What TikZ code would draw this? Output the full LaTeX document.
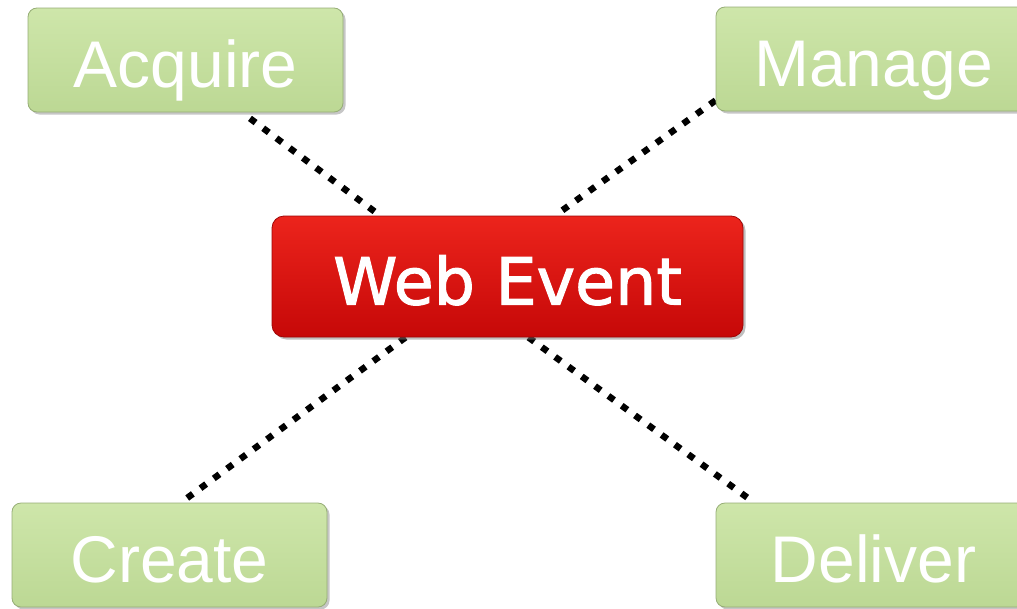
\documentclass[tikz,border=0pt]{standalone}
\usepackage{fontspec}
\setmainfont{Liberation Sans}
\newfontface\webfont[FakeBold=1.6]{DejaVu Sans}
\usetikzlibrary{shadows,backgrounds}
\definecolor{gtop}{RGB}{206,230,170}
\definecolor{gbot}{RGB}{188,216,148}
\definecolor{rtop}{RGB}{236,36,28}
\definecolor{rbot}{RGB}{198,8,8}
\tikzset{
  greenbox/.style={rectangle, rounded corners=9pt, top color=gtop, bottom color=gbot,
    draw=gbot!80!black, line width=0.8pt,
    drop shadow={shadow xshift=2.5pt, shadow yshift=-2.5pt, opacity=0.45},
    minimum width=315pt, minimum height=104pt, inner sep=0pt,
    text=white, font=\fontsize{66}{66}\selectfont, text height=55pt, text depth=0pt},
  redbox/.style={rectangle, rounded corners=12pt, top color=rtop, bottom color=rbot,
    draw=rbot!80!black, line width=0.8pt,
    drop shadow={shadow xshift=2.5pt, shadow yshift=-2.5pt, opacity=0.5},
    minimum width=471pt, minimum height=121pt, inner sep=0pt,
    text=white, font=\webfont\fontsize{65}{65}\selectfont, text height=56pt, text depth=0pt},
  dotline/.style={line width=6.5pt, dash pattern=on 7pt off 9.5pt, black}
}
\begin{document}
\begin{tikzpicture}[x=1pt,y=-1pt]
\useasboundingbox (0,0) rectangle (1017,608);
\clip (0,0) rectangle (1017,608);
\node[greenbox] (acq) at (185.5,60) {Acquire};
\node[greenbox] (man) at (873.5,59) {Manage};
\node[greenbox] (cre) at (169.5,555) {Create};
\node[greenbox] (del) at (873.5,555) {Deliver};
\node[redbox] (web) at (507.5,276.5) {Web Event};
\begin{scope}[on background layer]
\draw[dotline] ([xshift=64.5pt,yshift=-6pt]acq.south) -- ([xshift=-127.5pt]web.north);
\draw[dotline] ([yshift=11pt]man.south west) -- ([xshift=47.5pt]web.north);
\draw[dotline] ([xshift=-102pt]web.south) -- ([xshift=15.5pt,yshift=3pt]cre.north);
\draw[dotline] ([xshift=21pt]web.south) -- ([xshift=-123.5pt,yshift=3pt]del.north);
\end{scope}
\end{tikzpicture}
\end{document}
